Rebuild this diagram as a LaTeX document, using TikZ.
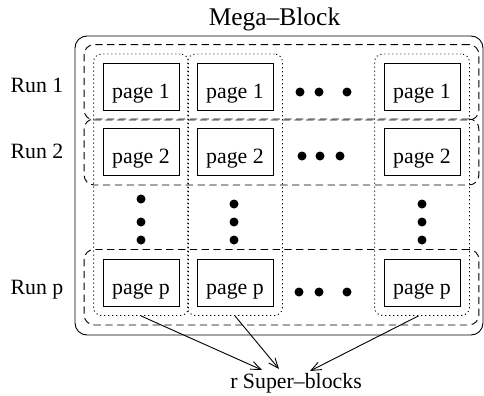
\documentclass[tikz,border=0pt]{standalone}
\usepackage{fontspec}
\setmainfont{Liberation Serif}
\usepackage{tikz}
\usetikzlibrary{arrows.meta, fit}

\begin{document}
\begin{tikzpicture}[x=0.55pt, y=-0.55pt, line width=0.5pt,
    >={Straight Barb[length=5.5pt, width=4.5pt]},
    font=\fontsize{12}{14}\selectfont,
    page/.style={draw, minimum width=41.8pt, minimum height=25.9pt,
      inner sep=0pt, text height=13pt, text depth=0pt},
    column/.style={draw, dash pattern=on 0.6pt off 1.6pt,
      rounded corners=4.4pt, inner sep=4.95pt},
    runrow/.style={draw, dash pattern=on 4pt off 2.5pt,
      rounded corners=5.5pt, inner sep=4.95pt}]
  \useasboundingbox (0,0) rectangle (484,396);

  % Pages of run 1
  \node[page] (p11) at (141,87) {page 1};
  \node[page] (p12) at (235,87) {page 1};
  \node[page] (p1r) at (422,87) {page 1};

  % Pages of run 2
  \node[page] (p21) at (141,152) {page 2};
  \node[page] (p22) at (235,152) {page 2};
  \node[page] (p2r) at (422,152) {page 2};

  % Pages of run p
  \node[page] (pp1) at (141,282.5) {page p};
  \node[page] (pp2) at (235,282.5) {page p};
  \node[page] (ppr) at (422,282.5) {page p};

  % Super-blocks (dotted columns)
  \node[column, fit=(p11)(pp1)] (c1) {};
  \node[column, fit=(p12)(pp2)] (c2) {};
  \node[column, fit=(p1r)(ppr)] (cr) {};

  % Runs (dashed rows)
  \node[runrow, fit=(c1.north west)(cr.east |- p11.south)] (r1) {};
  \node[runrow, fit=(c1.west |- p21.north)(cr.east |- p21.south)] (r2) {};
  \node[runrow, fit=(c1.west |- pp1.north)(cr.south east)] (rp) {};

  % Mega-block
  \draw[rounded corners=6.6pt] (75,36) rectangle (483,335);
  \node[anchor=base, font=\fontsize{14}{17}\selectfont] (mega) at (274.5,25.5) {Mega--Block};

  % Run labels
  \node[anchor=base] (run1) at (37,92) {Run 1};
  \node[anchor=base] (run2) at (37,158) {Run 2};
  \node[anchor=base] (runp) at (37,294) {Run p};

  % Dots
  \fill (300,92) circle (4.5); \fill (319,92) circle (4.5); \fill (347,92) circle (4.5);
  \fill (302,156) circle (4.5); \fill (320,156) circle (4.5); \fill (340,156) circle (4.5);
  \fill (299,292) circle (4.5); \fill (319,292) circle (4.5); \fill (347,292) circle (4.5);
  \fill (141,199) circle (4.5); \fill (141,222) circle (4.5); \fill (141,240) circle (4.5);
  \fill (234,204) circle (4.5); \fill (234,222) circle (4.5); \fill (234,240) circle (4.5);
  \fill (422,204) circle (4.5); \fill (422,222) circle (4.5); \fill (422,240) circle (4.5);

  % Super-blocks label
  \node[anchor=base] (sb) at (296,388) {r Super--blocks};
  \coordinate (t1) at (262,370);
  \coordinate (t2) at (279,369);
  \coordinate (tr) at (310,371);
  \draw[->] (c1.south) -- (t1);
  \draw[->] (c2.south) -- (t2);
  \draw[->] ([xshift=-2pt]cr.south) -- (tr);
\end{tikzpicture}
\end{document}
